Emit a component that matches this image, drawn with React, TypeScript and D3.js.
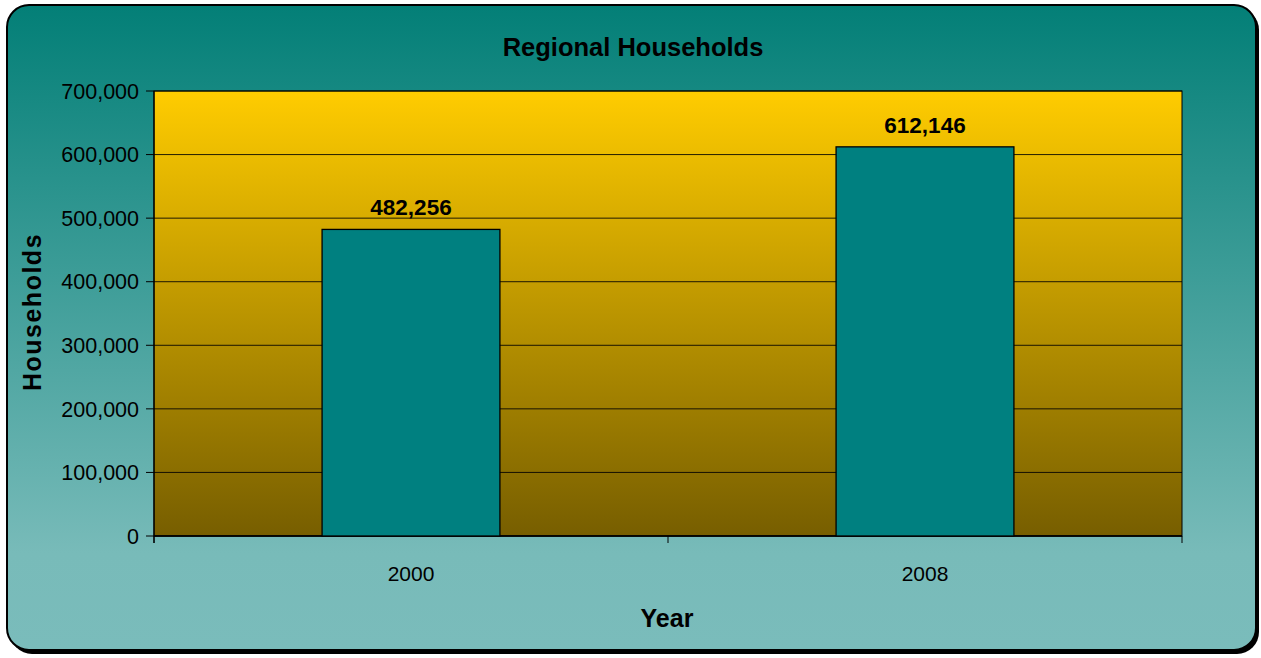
import React from "react";
import * as d3 from "d3";

const categories = ["2000", "2008"];
const values = [482256, 612146];
const yTicks = [0, 100000, 200000, 300000, 400000, 500000, 600000, 700000];

const W = 1261;
const H = 658;
const plot = { left: 154, right: 1182, top: 91, bottom: 536 };
const FONT = "'Liberation Sans', Arial, sans-serif";

export default function App() {
  const x = d3.scaleBand<string>().domain(categories).range([plot.left, plot.right]).paddingInner(0.654).paddingOuter(0.327);
  const y = d3.scaleLinear().domain([0, 700000]).range([plot.bottom, plot.top]);
  const fmt = d3.format(",");
  const bandEdges = [plot.left, (plot.left + plot.right) / 2, plot.right];
  return (
    <svg width={W} height={H} style={{ position: "absolute", left: 0, top: 0 }}>
      <defs>
        <linearGradient id="bg" x1="0" y1="0" x2="0" y2="1">
          <stop offset="0" stopColor="#037f77" />
          <stop offset="0.85" stopColor="#78bbb9" />
          <stop offset="1" stopColor="#7abcbb" />
        </linearGradient>
        <linearGradient id="pg" x1="0" y1="0" x2="0" y2="1">
          <stop offset="0" stopColor="#ffcc00" />
          <stop offset="1" stopColor="#775e00" />
        </linearGradient>
      </defs>
      <rect x={10} y={8} width={1249} height={646} rx={22} ry={22} fill="#000" />
      <rect x={7} y={5} width={1249} height={645} rx={22} ry={22} fill="url(#bg)" stroke="#000" strokeWidth={2} />
      <rect x={plot.left} y={plot.top} width={plot.right - plot.left} height={plot.bottom - plot.top} fill="url(#pg)" stroke="#000" strokeWidth={1} />
      {yTicks.map((t) => (
        <g key={t}>
          <line x1={plot.left} x2={plot.right} y1={y(t)} y2={y(t)} stroke="#000" strokeWidth={1} opacity={t === 0 ? 1 : 0.85} />
          <line x1={plot.left - 8} x2={plot.left} y1={y(t)} y2={y(t)} stroke="#000" />
          <text x={plot.left - 15} y={y(t)} dy="0.36em" textAnchor="end" fontFamily={FONT} fontSize={21.5} fill="#000">
            {fmt(t)}
          </text>
        </g>
      ))}
      <line x1={plot.left} x2={plot.left} y1={plot.top} y2={plot.bottom + 7} stroke="#000" strokeWidth={1.2} />
      <line x1={plot.left} x2={plot.right} y1={plot.bottom} y2={plot.bottom} stroke="#000" strokeWidth={1.5} />
      {bandEdges.map((e, i) => (
        <line key={i} x1={e} x2={e} y1={plot.bottom} y2={plot.bottom + 7} stroke="#000" />
      ))}
      {categories.map((c, i) => (
        <g key={c}>
          <rect x={x(c)} y={y(values[i])} width={x.bandwidth()} height={plot.bottom - y(values[i])} fill="#008080" stroke="#000" strokeWidth={1.3} />
          <text x={x(c)! + x.bandwidth() / 2} y={y(values[i]) - 14} textAnchor="middle" fontFamily={FONT} fontSize={22.5} fontWeight="bold" fill="#000">
            {fmt(values[i])}
          </text>
          <text x={x(c)! + x.bandwidth() / 2} y={581} textAnchor="middle" fontFamily={FONT} fontSize={21} fill="#000">
            {c}
          </text>
        </g>
      ))}
      <text x={633} y={56} textAnchor="middle" fontFamily={FONT} fontSize={25.5} fontWeight="bold" fill="#000">
        Regional Households
      </text>
      <text x={667} y={627} textAnchor="middle" fontFamily={FONT} fontSize={25} fontWeight="bold" fill="#000">
        Year
      </text>
      <text transform="translate(41,312) rotate(-90)" textAnchor="middle" fontFamily={FONT} fontSize={25} fontWeight="bold" letterSpacing={1.5} fill="#000">
        Households
      </text>
    </svg>
  );
}
